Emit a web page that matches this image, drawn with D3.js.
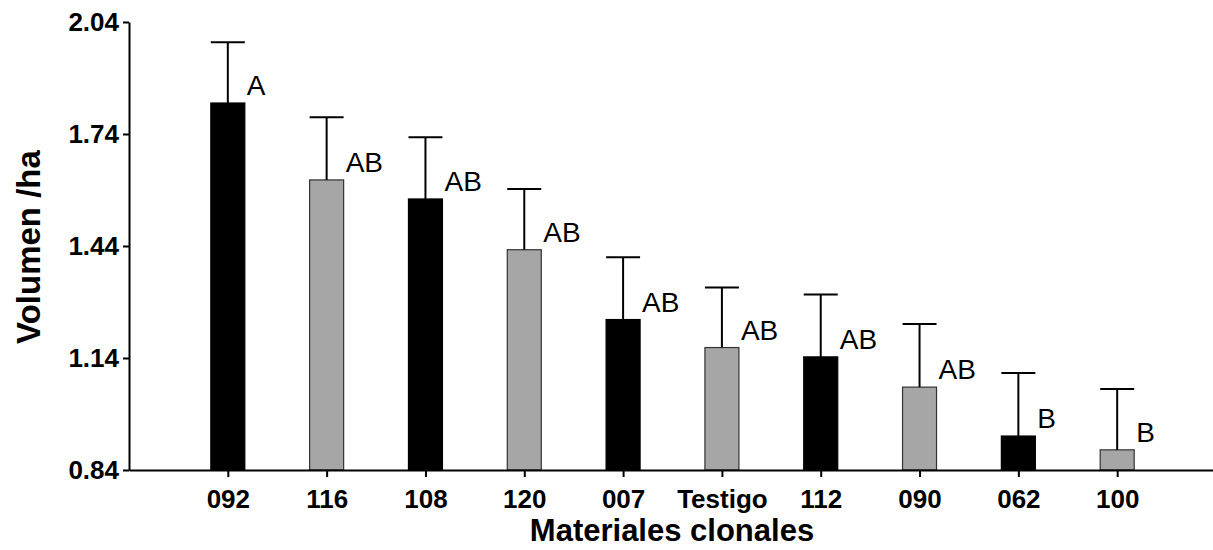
<!DOCTYPE html>
<meta charset="utf-8">
<html>
<head>
<script src="https://d3js.org/d3.v7.min.js"></script>
<style>
  body { margin: 0; background: #fff; }
  text { font-family: "Liberation Sans", Arial, sans-serif; }
</style>
</head>
<body>
<div id="my_dataviz"></div>
<script>

// data
var clones  = ["092", "116", "108", "120", "007", "Testigo", "112", "090", "062", "100"];
var volumen = [1.823, 1.617, 1.566, 1.430, 1.243, 1.168, 1.143, 1.062, 0.931, 0.894];
var errores = [0.163, 0.168, 0.165, 0.163, 0.167, 0.161, 0.167, 0.169, 0.169, 0.163];
var letras  = ["A", "AB", "AB", "AB", "AB", "AB", "AB", "AB", "B", "B"];
var colores = ["black", "grey", "black", "grey", "black", "grey", "black", "grey", "black", "grey"];
var yTicks  = [0.84, 1.14, 1.44, 1.74, 2.04];

var data = clones.map(function(c, i) {
  return {clone: c, value: volumen[i], err: errores[i], letter: letras[i], color: colores[i]};
});

var width = 1213, height = 550;
var x0 = 129, x1 = 1216, yTop = 22, yBottom = 470;

var svg = d3.select("#my_dataviz")
  .append("svg")
    .attr("width", width)
    .attr("height", height);

// X scale
var x = d3.scalePoint()
  .domain(clones)
  .range([x0, x1])
  .padding(1);

// Y scale
var y = d3.scaleLinear()
  .domain([0.84, 2.04])
  .range([yBottom, yTop]);

var barW = 34;

// bars
svg.selectAll("rect.bar")
  .data(data)
  .enter()
  .append("rect")
    .attr("class", "bar")
    .attr("x", function(d) { return x(d.clone) - barW / 2; })
    .attr("y", function(d) { return y(d.value); })
    .attr("width", barW)
    .attr("height", function(d) { return yBottom - y(d.value); })
    .attr("fill", function(d) { return d.color == "black" ? "#000" : "#a6a6a6"; })
    .attr("stroke", function(d) { return d.color == "black" ? "#000" : "#333"; })
    .attr("stroke-width", 1.2);

// error bars
svg.selectAll("line.err")
  .data(data)
  .enter()
  .append("line")
    .attr("class", "err")
    .attr("x1", function(d) { return x(d.clone); })
    .attr("x2", function(d) { return x(d.clone); })
    .attr("y1", function(d) { return y(d.value); })
    .attr("y2", function(d) { return y(d.value + d.err); })
    .attr("stroke", "#000")
    .attr("stroke-width", 2);

svg.selectAll("line.cap")
  .data(data)
  .enter()
  .append("line")
    .attr("class", "cap")
    .attr("x1", function(d) { return x(d.clone) - barW / 2; })
    .attr("x2", function(d) { return x(d.clone) + barW / 2; })
    .attr("y1", function(d) { return y(d.value + d.err); })
    .attr("y2", function(d) { return y(d.value + d.err); })
    .attr("stroke", "#000")
    .attr("stroke-width", 2);

// letters
svg.selectAll("text.letter")
  .data(data)
  .enter()
  .append("text")
    .attr("class", "letter")
    .attr("x", function(d) { return x(d.clone) + 19; })
    .attr("y", function(d) { return y(d.value) - 8; })
    .attr("font-size", "28px")
    .attr("fill", "#000")
    .text(function(d) { return d.letter; });

// X axis
var xAxis = svg.append("g")
  .attr("transform", "translate(0," + yBottom + ")")
  .call(d3.axisBottom(x).tickSizeInner(7).tickSizeOuter(0).tickPadding(13));
xAxis.select(".domain").attr("stroke-width", 2);
xAxis.selectAll(".tick line").attr("stroke-width", 2);
xAxis.selectAll("text")
  .attr("font-size", "26px")
  .attr("font-weight", "bold")
  .attr("fill", "#000");

// Y axis
var yAxis = svg.append("g")
  .attr("transform", "translate(" + x0 + ",0)")
  .call(d3.axisLeft(y).tickValues(yTicks).tickFormat(d3.format(".2f")).tickSizeInner(6).tickSizeOuter(0).tickPadding(4));
yAxis.select(".domain").attr("stroke-width", 2);
yAxis.selectAll(".tick line").attr("stroke-width", 2);
yAxis.selectAll("text")
  .attr("font-size", "26px")
  .attr("font-weight", "bold")
  .attr("fill", "#000");

// axis titles
svg.append("text")
  .attr("x", 672)
  .attr("y", 541)
  .attr("text-anchor", "middle")
  .attr("font-size", "31px")
  .attr("font-weight", "bold")
  .text("Materiales clonales");

svg.append("text")
  .attr("transform", "translate(40,247) rotate(-90)")
  .attr("text-anchor", "middle")
  .attr("font-size", "33px")
  .attr("font-weight", "bold")
  .text("Volumen /ha");

</script>
</body>
</html>
